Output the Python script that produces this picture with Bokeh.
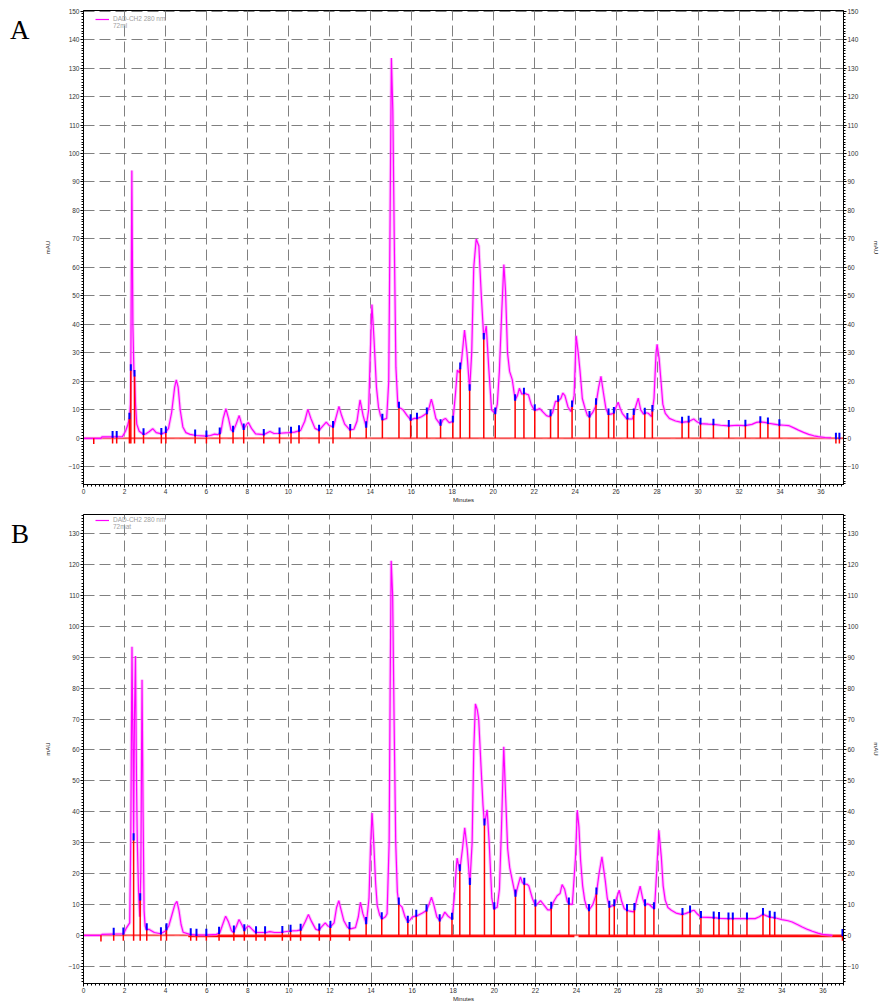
import numpy as np
from bokeh.plotting import figure
from bokeh.models import (Range1d, LinearAxis, SingleIntervalTicker,
                          Legend, LegendItem, Div)
from bokeh.layouts import column, row
from bokeh.embed import file_html
from bokeh.resources import INLINE

# ---------------- data ----------------
legend_channel = "DAD-CH2 280 nm"
legend_sample_a = "72ml"
legend_sample_b = "72mat"

a_time = [0.0, 0.85, 0.9, 1.9, 2.05, 2.15, 2.24, 2.29, 2.31, 2.36, 2.41, 2.46, 2.49, 2.54,
          2.6, 2.72, 2.9, 3.05, 3.2, 3.38, 3.55, 3.8, 4.0, 4.15, 4.3, 4.45, 4.53, 4.62,
          4.72, 4.85, 5.0, 5.2, 5.5, 6.0, 6.2, 6.4, 6.55, 6.7, 6.82, 6.95, 7.08, 7.2,
          7.3, 7.45, 7.6, 7.72, 7.82, 7.95, 8.05, 8.2, 8.4, 8.8, 9.1, 9.3, 9.6, 10.0,
          10.3, 10.6, 10.8, 10.95, 11.1, 11.3, 11.5, 11.7, 11.85, 12.0, 12.2, 12.35,
          12.47, 12.6, 12.75, 13.0, 13.2, 13.35, 13.5, 13.65, 13.8, 13.92, 14.0, 14.08,
          14.18, 14.3, 14.4, 14.5, 14.6, 14.8, 14.9, 14.97, 15.03, 15.1, 15.17, 15.25,
          15.35, 15.5, 15.6, 15.8, 15.97, 16.15, 16.3, 16.5, 16.76, 16.88, 16.98, 17.08,
          17.2, 17.43, 17.55, 17.67, 17.85, 18.03, 18.15, 18.25, 18.35, 18.45, 18.6,
          18.72, 18.85, 18.95, 19.05, 19.17, 19.3, 19.42, 19.54, 19.66, 19.78, 19.92,
          20.0, 20.1, 20.2, 20.3, 20.42, 20.52, 20.6, 20.7, 20.8, 20.93, 21.07, 21.18,
          21.28, 21.4, 21.53, 21.62, 21.72, 21.85, 22.0, 22.15, 22.26, 22.4, 22.6, 22.75,
          22.9, 23.04, 23.15, 23.3, 23.4, 23.5, 23.65, 23.8, 23.95, 24.05, 24.15, 24.24,
          24.35, 24.48, 24.6, 24.7, 24.85, 25.0, 25.15, 25.26, 25.38, 25.5, 25.62, 25.75,
          25.88, 26.0, 26.1, 26.2, 26.3, 26.5, 26.65, 26.8, 26.95, 27.08, 27.2, 27.34,
          27.45, 27.57, 27.73, 27.85, 27.95, 28.0, 28.1, 28.18, 28.28, 28.4, 28.6, 28.9,
          29.2, 29.4, 29.54, 29.79, 29.95, 30.11, 30.5, 30.76, 31.1, 31.5, 31.9, 32.3,
          32.63, 32.85, 33.04, 33.25, 33.45, 33.7, 33.93, 34.2, 34.42, 34.7, 34.9, 35.15,
          35.4, 35.65, 35.87, 36.2, 36.5]
a_mau = [0.0, 0.0, 0.5, 0.6, 2.5, 4.5, 7.0, 12.0, 24.0, 94.0, 40.0, 24.0, 22.0, 12.0,
         5.0, 2.5, 1.5, 1.6, 2.3, 3.4, 2.0, 1.6, 2.0, 3.5, 9.0, 18.0, 20.5, 18.0,
         10.0, 4.0, 2.0, 1.4, 1.0, 0.8, 1.0, 1.5, 1.3, 2.0, 7.0, 10.4, 7.0, 3.0,
         2.4, 5.0, 8.0, 5.0, 3.2, 4.8, 5.6, 3.5, 1.6, 1.3, 2.4, 1.7, 1.8, 2.0,
         2.2, 2.8, 6.0, 10.2, 7.0, 3.5, 2.8, 4.5, 5.7, 4.5, 4.0, 8.0,
         11.2, 8.0, 5.0, 3.0, 3.2, 6.0, 13.5, 8.0, 4.0, 10.0, 30.0, 47.0,
         35.0, 18.0, 11.0, 8.0, 6.5, 7.0, 20.0, 80.0, 133.5, 115.0, 70.0, 25.0,
         11.0, 10.5, 10.0, 8.0, 6.5, 7.0, 7.0, 7.6, 8.8, 11.0, 13.8, 11.0,
         7.0, 4.7, 6.5, 7.0, 5.5, 5.9, 15.0, 24.0, 23.0, 27.0, 38.0,
         30.0, 17.0, 30.0, 60.0, 70.0, 67.5, 50.0, 35.0, 39.5, 25.0, 10.0,
         9.4, 8.8, 12.0, 23.5, 45.0, 61.0, 52.0, 30.0, 23.5, 20.6, 13.5, 15.0,
         17.6, 15.5, 15.9, 15.5, 15.3, 12.0, 10.0, 10.0, 10.5, 9.5, 8.0, 7.6,
         9.0, 13.0, 13.0, 14.0, 15.9, 15.0, 11.0, 9.4, 15.0, 36.0, 30.0, 23.5,
         14.0, 10.6, 8.0, 7.6, 9.0, 11.2, 18.0, 21.8, 16.0, 10.5, 8.5, 8.5,
         8.8, 11.0, 12.7, 10.5, 8.8, 7.0, 6.8, 6.8, 11.0, 14.1, 10.0, 8.5,
         9.0, 8.8, 7.6, 14.0, 30.0, 33.0, 28.0, 21.0, 12.0, 8.8, 7.0, 6.1,
         5.6, 5.8, 5.9, 6.8, 5.8, 5.2, 5.0, 4.9, 4.6, 4.4, 4.6, 4.5,
         4.9, 5.6, 5.8, 5.6, 5.3, 5.0, 4.7, 4.6, 4.5, 3.6, 2.9, 2.1,
         1.4, 0.9, 0.6, 0.3, 0.2]
a_marks = [1.42, 1.62, 2.24, 2.31, 2.49, 2.93, 3.8, 4.02, 5.45, 6.0, 6.65, 7.3, 7.82,
           8.8, 9.57, 10.13, 10.52, 11.5, 12.18, 13.02, 13.8, 14.59, 15.4, 15.97, 16.28,
           16.76, 17.43, 18.03, 18.39, 18.85, 19.54, 20.1, 21.07, 21.5, 22.03, 22.8,
           23.17, 23.85, 24.7, 25.02, 25.63, 25.89, 26.55, 26.86, 27.4, 27.77, 29.22,
           29.54, 30.12, 30.75, 31.5, 32.31, 33.04, 33.41, 33.97, 36.73, 36.9]
a_start_marks = [0.5]
a_baseline = [0.0, 37.1]

b_time = [0.0, 0.85, 0.9, 1.95, 2.1, 2.25, 2.3, 2.36, 2.41, 2.44, 2.48, 2.53, 2.58, 2.62,
          2.68, 2.74, 2.79, 2.85, 2.9, 2.95, 3.0, 3.05, 3.2, 3.45, 3.75, 3.99, 4.15, 4.3,
          4.45, 4.55, 4.65, 4.75, 4.85, 5.17, 5.5, 5.98, 6.47, 6.64, 6.8, 6.92, 7.05,
          7.2, 7.3, 7.45, 7.57, 7.7, 7.83, 7.95, 8.05, 8.2, 8.37, 8.9, 9.07, 9.3, 9.56,
          10.05, 10.4, 10.6, 10.8, 10.95, 11.1, 11.3, 11.45, 11.6, 11.77, 11.9, 12.02,
          12.2, 12.32, 12.43, 12.55, 12.67, 12.85, 13.0, 13.24, 13.38, 13.48, 13.6,
          13.77, 13.9, 13.98, 14.05, 14.13, 14.22, 14.3, 14.42, 14.54, 14.7, 14.78,
          14.88, 14.93, 14.98, 15.05, 15.12, 15.2, 15.28, 15.35, 15.45, 15.51, 15.65,
          15.79, 15.9, 16.0, 16.15, 16.27, 16.5, 16.7, 16.82, 16.94, 17.05, 17.2, 17.34,
          17.48, 17.59, 17.75, 17.94, 18.05, 18.15, 18.19, 18.25, 18.32, 18.45, 18.56,
          18.68, 18.81, 18.92, 19.0, 19.08, 19.17, 19.24, 19.35, 19.45, 19.52, 19.65,
          19.75, 19.88, 19.97, 20.14, 20.25, 20.35, 20.46, 20.55, 20.65, 20.75, 20.9,
          21.03, 21.15, 21.27, 21.37, 21.47, 21.6, 21.68, 21.85, 22.0, 22.15, 22.25,
          22.45, 22.6, 22.73, 22.9, 23.06, 23.2, 23.3, 23.42, 23.55, 23.63, 23.8, 23.95,
          24.04, 24.12, 24.2, 24.3, 24.4, 24.5, 24.61, 24.8, 24.97, 25.1, 25.24, 25.4,
          25.5, 25.6, 25.72, 25.84, 25.95, 26.08, 26.2, 26.33, 26.46, 26.6, 26.79, 26.95,
          27.1, 27.22, 27.34, 27.45, 27.56, 27.7, 27.8, 27.9, 28.01, 28.13, 28.22, 28.32,
          28.45, 28.62, 28.85, 29.1, 29.3, 29.52, 29.65, 29.73, 29.9, 30.06, 30.4, 30.66,
          31.0, 31.4, 31.9, 32.3, 32.7, 32.9, 33.08, 33.25, 33.44, 33.7, 34.0, 34.3,
          34.5, 34.75, 34.99, 35.25, 35.48, 35.75, 35.97, 36.46]
b_mau = [0.0, 0.0, 0.3, 0.5, 2.5, 4.0, 30.0, 93.4, 60.0, 31.0, 70.0, 90.4, 50.0, 30.0,
         14.0, 6.0, 20.0, 82.7, 40.0, 8.0, 3.0, 1.9, 1.9, 0.9, 0.5, 1.4, 3.0, 6.5,
         10.0, 11.0, 8.0, 3.5, 1.0, 0.3, 0.1, 0.1, 0.3, 0.9, 4.0, 6.2, 4.5,
         1.5, 0.9, 3.0, 5.1, 3.5, 1.6, 2.6, 3.0, 2.0, 0.9, 0.9, 1.2, 0.9, 0.9,
         1.4, 1.5, 1.8, 4.5, 6.7, 4.5, 2.0, 1.6, 2.8, 4.0, 3.0, 2.7,
         4.0, 9.0, 11.2, 8.0, 4.8, 2.6, 2.1, 2.5, 6.0, 10.7, 7.0,
         3.7, 12.0, 30.0, 39.6, 30.0, 17.0, 9.6, 6.5, 5.3, 6.0, 7.0,
         30.0, 80.0, 121.2, 110.0, 70.0, 30.0, 14.0, 10.2, 9.5, 9.1, 6.0,
         4.3, 5.0, 5.9, 6.2, 6.4, 7.2, 8.0, 10.0, 12.3, 10.0, 6.0, 4.8,
         6.0, 7.5, 6.2, 5.3, 12.0, 22.0, 25.0, 23.0, 21.0, 28.0, 34.8,
         28.0, 16.6, 30.0, 60.0, 74.9, 73.0, 70.0, 55.0, 42.0, 35.8, 40.6,
         30.0, 12.0, 8.6, 9.1, 15.0, 35.0, 61.0, 45.0, 28.0, 21.9, 17.0,
         12.8, 16.0, 18.9, 17.0, 16.6, 16.5, 16.0, 12.0, 9.6, 10.5, 11.2,
         9.5, 8.2, 8.2, 11.0, 12.8, 13.5, 16.4, 15.0, 11.0, 10.2, 10.0, 25.0,
         40.5, 35.0, 24.3, 16.0, 11.4, 9.0, 8.1, 10.0, 13.5, 20.0, 25.4, 17.8,
         12.0, 9.2, 9.5, 9.7, 12.0, 14.6, 11.0, 8.6, 8.1, 7.8, 7.6, 12.0,
         15.9, 12.0, 9.7, 10.2, 9.9, 9.0, 8.6, 20.0, 34.0, 25.4, 16.0, 11.4,
         9.0, 8.1, 7.2, 6.8, 7.0, 7.6, 8.0, 8.1, 6.8, 5.9, 5.8, 5.7,
         5.5, 5.4, 5.4, 5.4, 5.4, 6.0, 6.8, 6.3, 5.9, 5.6, 5.1, 4.7,
         4.3, 3.5, 2.7, 1.9, 1.3, 0.7, 0.3, 0.0]
b_marks = [1.47, 1.94, 2.44, 2.76, 3.08, 3.77, 4.04, 5.22, 5.5, 5.98, 6.6, 7.32, 7.83,
           8.4, 8.84, 9.68, 10.08, 10.57, 11.48, 12.02, 12.95, 13.76, 14.52, 15.35, 15.79,
           16.2, 16.7, 17.34, 17.94, 18.32, 18.81, 19.52, 20.0, 21.03, 21.46, 22.0,
           22.77, 23.63, 24.61, 24.97, 25.6, 25.84, 26.46, 26.82, 27.34, 27.77, 29.16,
           29.53, 30.06, 30.68, 30.94, 31.4, 31.61, 32.3, 33.08, 33.41, 33.65, 36.95]
b_start_marks = [0.85]
b_baseline = [0.0, 37.0]
b_baseline_bold_start = [5.1, 24.1]
b_baseline_bold_end = [23.9, 37.0]

FONT = "Liberation Sans"
LETTER_W = 40


def style_axis(ax, ticker, label):
    ax.ticker = ticker
    ax.axis_label = label
    ax.axis_line_color = "black"
    ax.axis_line_width = 1
    ax.major_tick_out = 3
    ax.major_tick_in = 0
    ax.minor_tick_out = 2
    ax.minor_tick_in = 0
    ax.major_tick_line_color = "black"
    ax.minor_tick_line_color = "black"
    ax.major_label_text_font = FONT
    ax.major_label_text_font_size = "6.5px"
    ax.major_label_text_color = "#333333"
    ax.major_label_standoff = 1
    ax.axis_label_text_font = FONT
    ax.axis_label_text_font_size = "6px"
    ax.axis_label_text_font_style = "normal"
    ax.axis_label_text_color = "#222222"


def make_panel(t, v, marks, start_marks, baseline, y0, y1, x1,
               height, top, bottom, right_border, second_label, bold=None):
    p = figure(width=881 - LETTER_W, height=height, x_range=Range1d(0, x1),
               y_range=Range1d(y0, y1),
               output_backend="svg", toolbar_location=None,
               min_border_left=83 - LETTER_W, min_border_right=right_border,
               min_border_top=top, min_border_bottom=bottom, margin=(0, 0, 0, 0))
    p.outline_line_color = "black"
    p.outline_line_width = 1
    p.background_fill_color = "white"
    p.border_fill_color = "white"

    xt = SingleIntervalTicker(interval=2, num_minor_ticks=10)
    yt = SingleIntervalTicker(interval=10, num_minor_ticks=10)
    style_axis(p.xaxis[0], xt, "Minutes")
    p.xaxis[0].axis_label_standoff = 0
    style_axis(p.yaxis[0], yt, "mAU")
    p.yaxis[0].axis_label_standoff = 14
    ry = LinearAxis()
    style_axis(ry, SingleIntervalTicker(interval=10, num_minor_ticks=10), "mAU")
    ry.axis_label_standoff = 11
    p.add_layout(ry, "right")

    p.xgrid.ticker = SingleIntervalTicker(interval=2)
    p.ygrid.ticker = SingleIntervalTicker(interval=10)
    for g in (p.xgrid, p.ygrid):
        g.grid_line_color = "#808080"
        g.grid_line_dash = "11 5"
        g.grid_line_width = 1

    t = np.asarray(t)
    v = np.asarray(v)
    marks = np.asarray(marks)

    # red baseline
    p.line(baseline, [0, 0], line_color="#ff5050", line_width=2, line_alpha=0.9)
    if bold is not None:
        p.segment(x0=bold[0], y0=[-0.3] * len(bold[0]), x1=bold[1], y1=[-0.3] * len(bold[1]),
                  line_color="#ff0000", line_width=2)

    # signal (halo + line)
    p.line(t, v, line_color="#ff88ff", line_width=3.2, line_alpha=0.55)
    main = p.line(t, v, line_color="#ff00ff", line_width=1.2)

    # integration marks
    heights = np.interp(marks, t, v, right=0.0)
    bottoms = np.where((marks < 13) | (marks > 36), -1.8, 0.0)
    p.segment(x0=marks, y0=bottoms, x1=marks, y1=heights, line_color="#ff0000", line_width=1.5)
    p.segment(x0=marks, y0=heights - 0.3, x1=marks, y1=heights + 2.0,
              line_color="#0000ff", line_width=2)
    sm = np.asarray(start_marks)
    p.segment(x0=sm, y0=np.full(len(sm), -2.0), x1=sm, y1=np.zeros(len(sm)),
              line_color="#ff0000", line_width=1.5)

    dummy = p.line(x=[], y=[], line_alpha=0)
    frame_h = height - top - bottom
    leg = Legend(items=[LegendItem(label=legend_channel, renderers=[main]),
                        LegendItem(label=second_label, renderers=[dummy])],
                 location=(12, frame_h - 19), padding=0, margin=0, spacing=0,
                 glyph_width=14, glyph_height=6, label_height=6, label_standoff=4,
                 label_text_font=FONT, label_text_font_size="6.5px",
                 label_text_color="#a0a0a0", background_fill_alpha=0,
                 border_line_alpha=0)
    p.add_layout(leg)
    return p


def letter_div(letter, height, pad_top, pad_left):
    html = ('<div style="font-family:\'Liberation Serif\',serif;font-size:27px;'
            'line-height:27px;color:black;margin:0;padding-top:%dpx;padding-left:%dpx">%s</div>'
            % (pad_top, pad_left, letter))
    return Div(text=html, width=LETTER_W, height=height, margin=(0, 0, 0, 0))


HA, HB = 505, 499
pa = make_panel(a_time, a_mau, a_marks, a_start_marks, a_baseline,
                -16.2, 150.2, 37.1, HA, 10, 21, 36, legend_sample_a)
pb = make_panel(b_time, b_mau, b_marks, b_start_marks, b_baseline,
                -15.6, 136.2, 37.0, HB, 9, 18, 38, legend_sample_b,
                bold=(b_baseline_bold_start, b_baseline_bold_end))

layout = column(row(letter_div("A", HA, 17, 10), pa, spacing=0, margin=(0, 0, 0, 0)),
                row(letter_div("B", HB, 16, 11), pb, spacing=0, margin=(0, 0, 0, 0)),
                spacing=0, margin=(0, 0, 0, 0))
open("out.html", "w").write(file_html(layout, INLINE))
